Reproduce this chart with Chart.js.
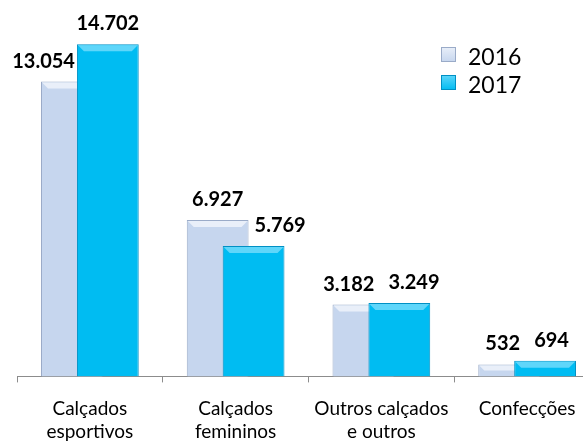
<!DOCTYPE html>
<html>
<head>
<meta charset="utf-8">
<script src="https://cdn.jsdelivr.net/npm/chart.js@4"></script>
<style>
    html, body { margin: 0; padding: 0; background: #fff; overflow: hidden; }
    #wrap { width: 583px; height: 442px; overflow: hidden; }
    #chart { display: block; }
</style>
</head>
<body>
<div id="wrap"><canvas id="chart" width="602" height="458"></canvas></div>
<script>
// dados do gráfico
var categorias = [
    ["Calçados", "esportivos"],
    ["Calçados", "femininos"],
    ["Outros calçados", "e outros"],
    ["Confecções"]
];
var anos = ["2016", "2017"];
var valores2016 = [13054, 6927, 3182, 532];
var valores2017 = [14702, 5769, 3249, 694];

var cores = {
    "2016": { fill: "#c6d6ee", border: "#9aabc8", top: "#e9eff9" },
    "2017": { fill: "#00bcf2", border: "#0090c4", top: "#5fd6fa" }
};

function fmt(v) {
    // separador de milhar no padrão brasileiro
    return String(v).replace(/\B(?=(\d{3})+(?!\d))/g, ".");
}

// faixa clara no topo das barras, imitando o chanfro
function chanfro(ctx, meta, col) {
    meta.data.forEach(function(bar) {
        var h = bar.base - bar.y;
        var b = Math.min(7, h / 2);
        var l = bar.x - bar.width / 2, r = bar.x + bar.width / 2;
        ctx.save();
        ctx.fillStyle = col.top;
        ctx.beginPath();
        ctx.moveTo(l + 1, bar.y + 1);
        ctx.lineTo(r - 1, bar.y + 1);
        ctx.lineTo(r - b, bar.y + b);
        ctx.lineTo(l + b, bar.y + b);
        ctx.closePath();
        ctx.fill();
        ctx.restore();
    });
}

// 2017 fica por cima de 2016 (barras sobrepostas)
var ordemDesenho = {
    id: "ordemDesenho",
    beforeDatasetDraw: function(chart, args) {
        if (args.index === 0) return false;
        if (args.index === 1) {
            var m0 = chart.getDatasetMeta(0);
            m0.controller.draw();
            chanfro(chart.ctx, m0, cores[anos[0]]);
        }
    },
    afterDatasetDraw: function(chart, args) {
        if (args.index === 1) chanfro(chart.ctx, args.meta, cores[anos[1]]);
    }
};

var rotulos = {
    id: "rotulos",
    afterDatasetsDraw: function(chart) {
        var ctx = chart.ctx;
        var m0 = chart.getDatasetMeta(0), m1 = chart.getDatasetMeta(1);
        var gap = 14, h = 15;
        ctx.save();
        ctx.font = "bold 20px Lato";
        ctx.fillStyle = "#000";
        ctx.textAlign = "center";
        ctx.textBaseline = "alphabetic";
        for (var i = 0; i < categorias.length; i++) {
            var b0 = m0.data[i], b1 = m1.data[i];
            var t0 = fmt(valores2016[i]), t1 = fmt(valores2017[i]);
            var w0 = ctx.measureText(t0).width, w1 = ctx.measureText(t1).width;
            var x0 = b0.x, x1 = b1.x;
            var y0 = b0.y - gap, y1 = b1.y - gap;
            // afasta os rótulos quando ficam na mesma altura
            if (Math.abs(y0 - y1) < h + 4) {
                var need = (w0 + w1) / 2 + 14;
                if (x1 - x0 < need) {
                    var d = (need - (x1 - x0)) / 2;
                    x0 -= d;
                    x1 += d;
                }
            }
            if (y0 > b1.y) x0 = Math.min(x0, b1.x - b1.width / 2 - 2 - w0 / 2);
            if (y1 > b0.y) x1 = Math.max(x1, b0.x + b0.width / 2 + 6 + w1 / 2);
            ctx.fillText(t0, x0, y0);
            ctx.fillText(t1, x1, y1);
        }
        ctx.restore();
    }
};

var legenda = {
    id: "legenda",
    afterDraw: function(chart) {
        var ctx = chart.ctx;
        ctx.save();
        ctx.font = "23px Lato";
        ctx.textBaseline = "alphabetic";
        chart.data.datasets.forEach(function(ds, i) {
            var c = cores[ds.label];
            var x = 441, y = 47 + i * 28;
            var g = ctx.createLinearGradient(x, y, x, y + 15);
            g.addColorStop(0, c.top);
            g.addColorStop(1, c.fill);
            ctx.fillStyle = g;
            ctx.fillRect(x, y, 15, 15);
            ctx.strokeStyle = c.border;
            ctx.lineWidth = 1;
            ctx.strokeRect(x + 0.5, y + 0.5, 14, 14);
            ctx.fillStyle = "#000";
            ctx.fillText(ds.label, 468, y + 18);
        });
        ctx.restore();
    }
};

var ctx = document.getElementById("chart").getContext("2d");
var grafico = new Chart(ctx, {
    type: "bar",
    data: {
        labels: categorias,
        datasets: [
            {
                label: anos[0],
                data: valores2016,
                backgroundColor: cores["2016"].fill,
                borderColor: cores["2016"].border,
                borderWidth: 1
            },
            {
                label: anos[1],
                data: valores2017,
                backgroundColor: cores["2017"].fill,
                borderColor: cores["2017"].border,
                borderWidth: 1
            }
        ]
    },
    options: {
        responsive: false,
        animation: false,
        layout: { padding: { left: 17, right: 2, top: 15, bottom: 0 } },
        datasets: {
            bar: { categoryPercentage: 0.493, barPercentage: 1.72 }
        },
        plugins: {
            legend: { display: false },
            tooltip: { enabled: false }
        },
        scales: {
            x: {
                grid: {
                    drawOnChartArea: false,
                    drawTicks: true,
                    tickLength: 6,
                    color: "#8c8c8c"
                },
                border: { color: "#8c8c8c", width: 1 },
                ticks: {
                    color: "#000",
                    font: { family: "Lato", size: 19, lineHeight: 1.2 },
                    padding: 15,
                    maxRotation: 0,
                    autoSkip: false
                }
            },
            y: { display: false, min: 0, max: 16000 }
        }
    },
    plugins: [ordemDesenho, rotulos, legenda]
});
</script>
</body>
</html>
